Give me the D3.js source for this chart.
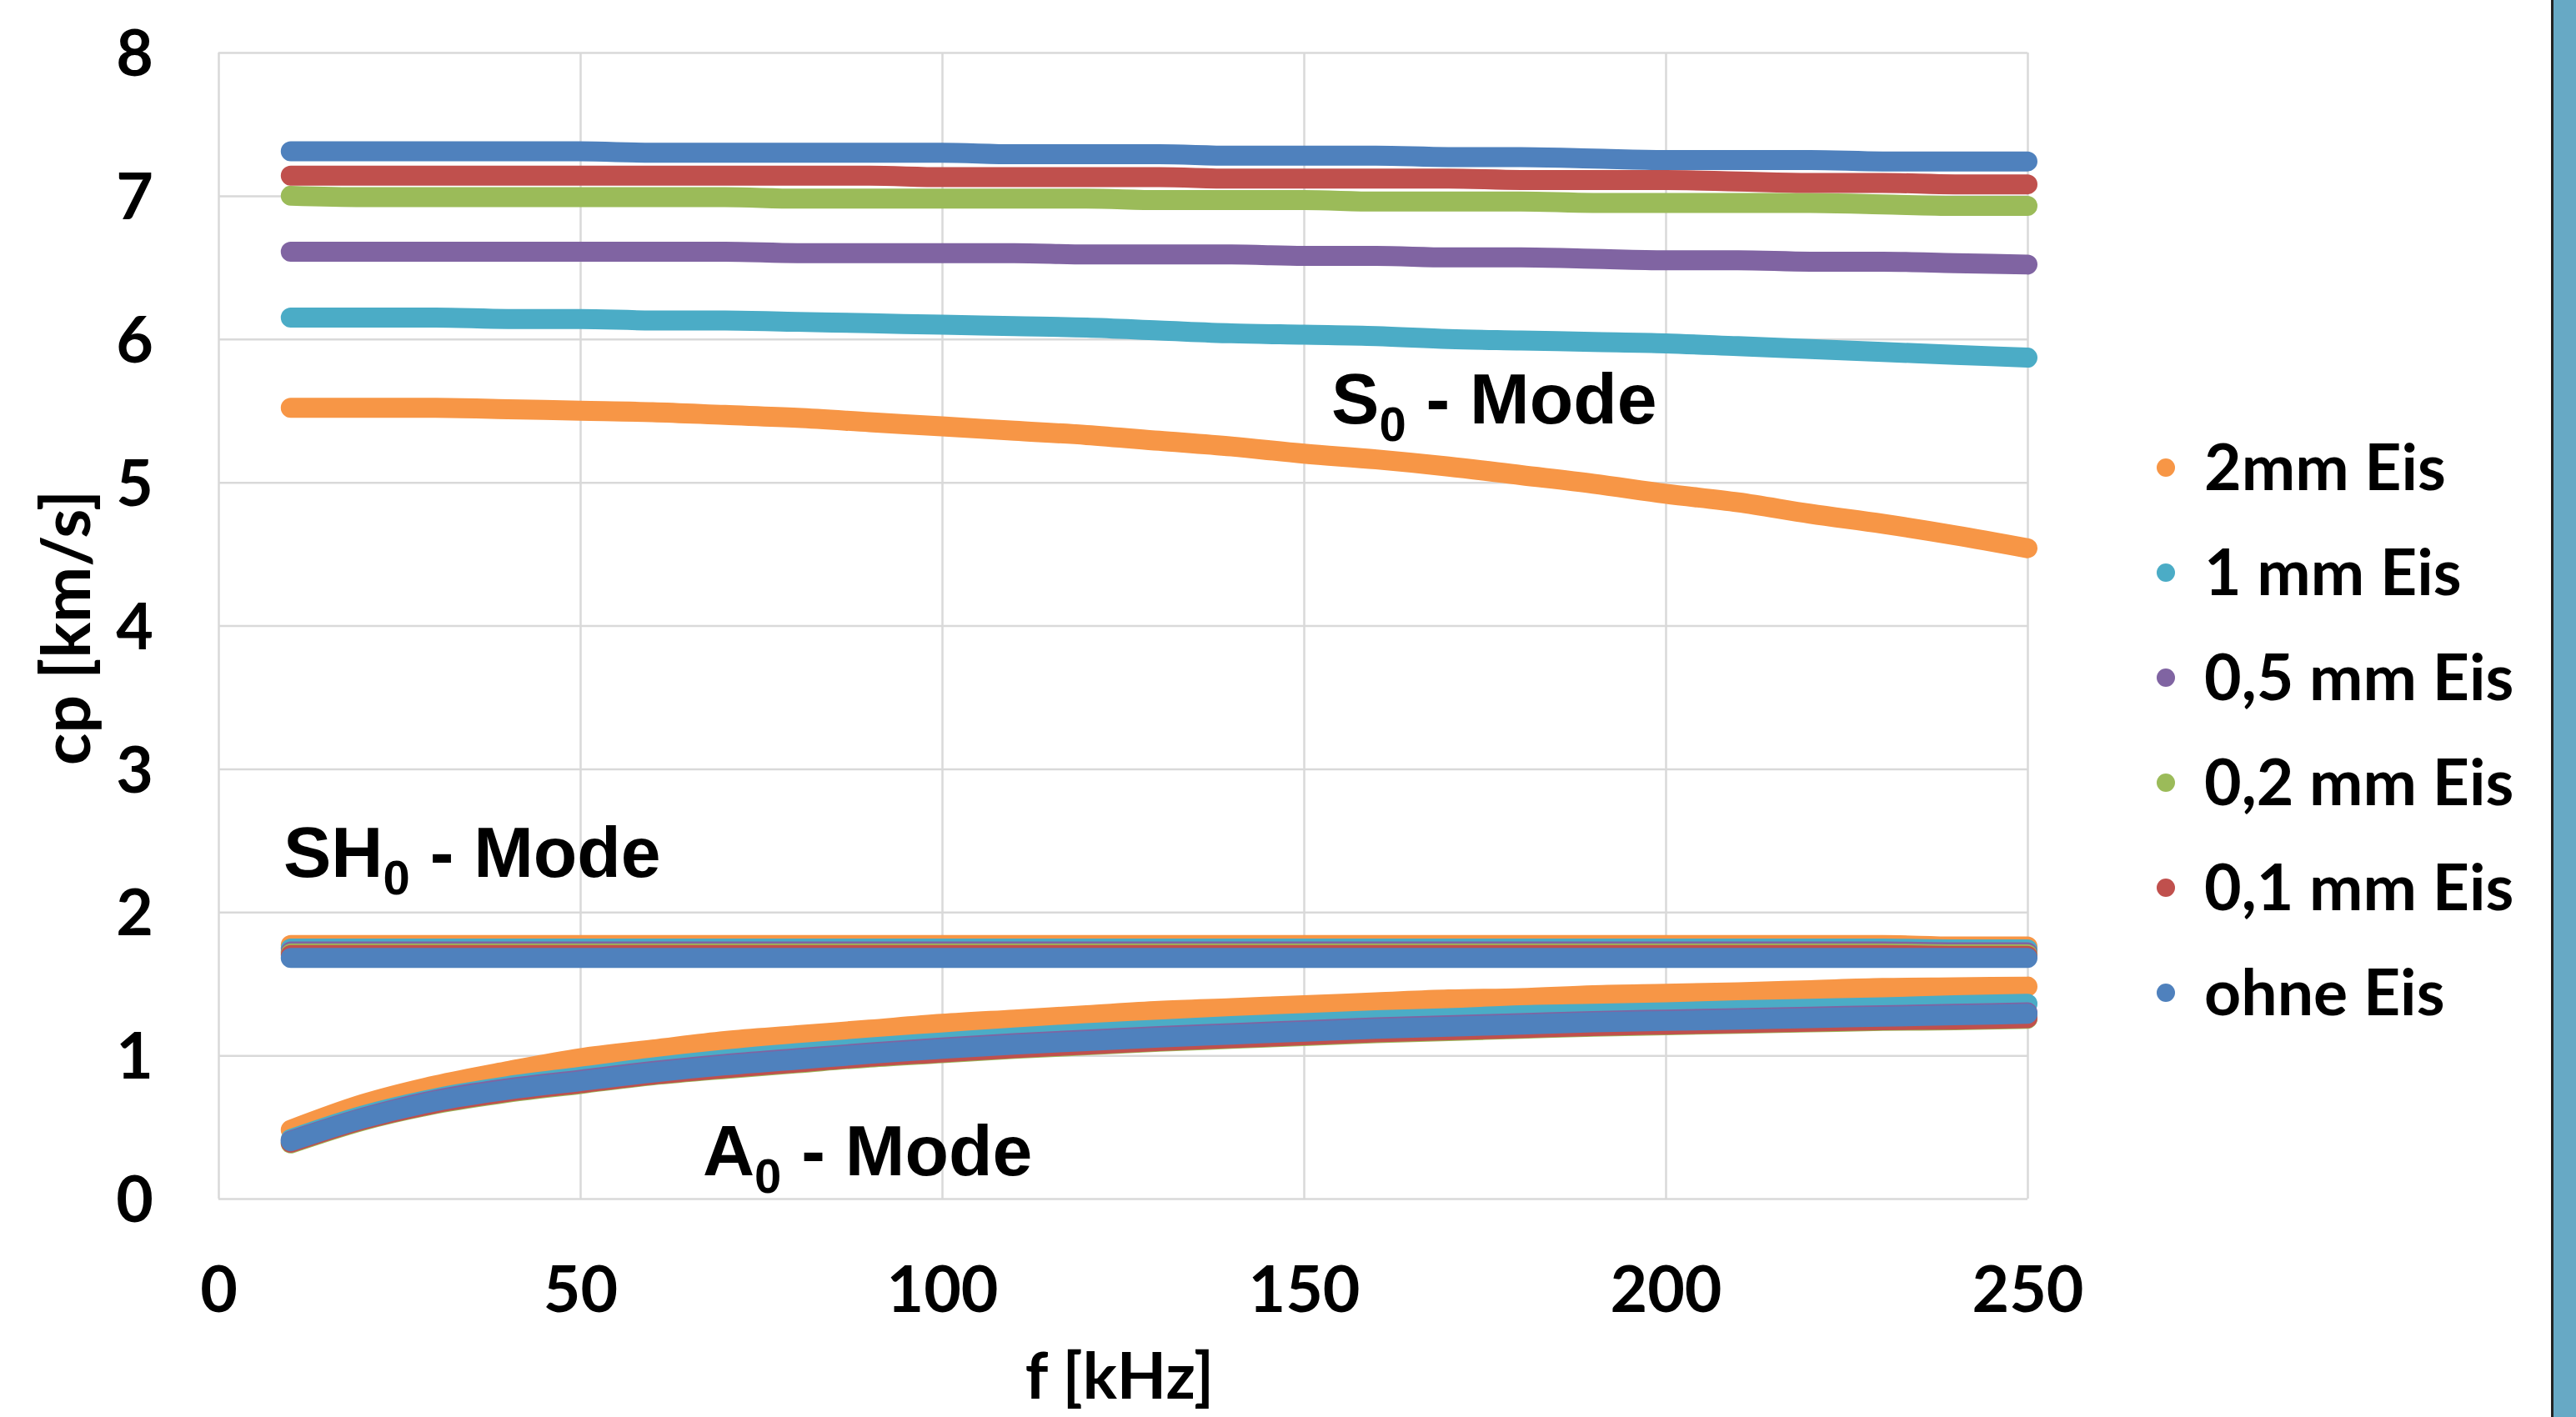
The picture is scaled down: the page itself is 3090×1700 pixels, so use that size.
<!DOCTYPE html>
<html>
<head>
<meta charset="utf-8">
<script src="https://cdn.jsdelivr.net/npm/d3@7"></script>
<style>
  html, body { margin: 0; padding: 0; background: #ffffff; }
  svg { display: block; }
</style>
</head>
<body>
<svg id="chart" width="3090" height="1700"></svg>
<script>
// ---------------- DATA ----------------
const freq = [10,20,30,40,50,60,70,80,90,100,110,120,130,140,150,160,170,180,190,200,210,220,230,240,250];

const seriesNames = ["2mm Eis", "1 mm Eis", "0,5 mm Eis", "0,2 mm Eis", "0,1 mm Eis", "ohne Eis"];
const seriesColors = ["#F79646", "#4BACC6", "#8064A2", "#9BBB59", "#C0504D", "#4F81BD"];

const xTicks = [0, 50, 100, 150, 200, 250];
const yTicks = [0, 1, 2, 3, 4, 5, 6, 7, 8];

// S0 mode
const s0_2mm  = [5.52,5.52,5.52,5.51,5.50,5.49,5.47,5.45,5.42,5.39,5.36,5.33,5.29,5.25,5.20,5.16,5.11,5.05,4.99,4.92,4.86,4.78,4.71,4.63,4.54];
const s0_1mm  = [6.15,6.15,6.15,6.14,6.14,6.13,6.13,6.12,6.11,6.10,6.09,6.08,6.06,6.04,6.03,6.02,6.00,5.99,5.98,5.97,5.95,5.93,5.91,5.89,5.87];
const s0_05mm = [6.61,6.61,6.61,6.61,6.61,6.61,6.61,6.60,6.60,6.60,6.60,6.59,6.59,6.59,6.58,6.58,6.57,6.57,6.56,6.55,6.55,6.54,6.54,6.53,6.52];
const s0_02mm = [7.00,6.99,6.99,6.99,6.99,6.99,6.99,6.98,6.98,6.98,6.98,6.98,6.97,6.97,6.97,6.96,6.96,6.96,6.95,6.95,6.95,6.95,6.94,6.93,6.93];
const s0_01mm = [7.14,7.14,7.14,7.14,7.14,7.14,7.14,7.14,7.14,7.13,7.13,7.13,7.13,7.12,7.12,7.12,7.12,7.11,7.11,7.11,7.10,7.09,7.09,7.08,7.08];
const s0_ohne = [7.31,7.31,7.31,7.31,7.31,7.30,7.30,7.30,7.30,7.30,7.29,7.29,7.29,7.28,7.28,7.28,7.27,7.27,7.26,7.25,7.25,7.25,7.24,7.24,7.24];

// SH0 mode
const sh0_2mm  = [1.77,1.77,1.77,1.77,1.77,1.77,1.77,1.77,1.77,1.77,1.77,1.77,1.77,1.77,1.77,1.77,1.77,1.77,1.77,1.77,1.77,1.77,1.77,1.76,1.76];
const sh0_1mm  = [1.745,1.745,1.745,1.745,1.745,1.745,1.745,1.745,1.745,1.745,1.745,1.745,1.745,1.745,1.745,1.745,1.745,1.745,1.745,1.745,1.745,1.745,1.745,1.74,1.74];
const sh0_05mm = [1.725,1.725,1.725,1.725,1.725,1.725,1.725,1.725,1.725,1.725,1.725,1.725,1.725,1.725,1.725,1.725,1.725,1.725,1.725,1.725,1.725,1.725,1.725,1.72,1.72];
const sh0_02mm = [1.71,1.71,1.71,1.71,1.71,1.71,1.71,1.71,1.71,1.71,1.71,1.71,1.71,1.71,1.71,1.71,1.71,1.71,1.71,1.71,1.71,1.71,1.71,1.705,1.705];
const sh0_01mm = [1.70,1.70,1.70,1.70,1.70,1.70,1.70,1.70,1.70,1.70,1.70,1.70,1.70,1.70,1.70,1.70,1.70,1.70,1.70,1.70,1.70,1.70,1.70,1.695,1.695];
const sh0_ohne = [1.68,1.68,1.68,1.68,1.68,1.68,1.68,1.68,1.68,1.68,1.68,1.68,1.68,1.68,1.68,1.68,1.68,1.68,1.68,1.68,1.68,1.68,1.68,1.68,1.68];

// A0 mode
const a0_2mm  = [0.48,0.66,0.79,0.89,0.98,1.04,1.10,1.14,1.18,1.22,1.25,1.28,1.31,1.33,1.35,1.37,1.39,1.40,1.42,1.43,1.44,1.455,1.47,1.475,1.48];
const a0_1mm  = [0.415,0.58,0.70,0.785,0.85,0.915,0.97,1.015,1.055,1.09,1.125,1.155,1.18,1.205,1.225,1.245,1.26,1.28,1.29,1.30,1.315,1.325,1.335,1.35,1.36];
const a0_05mm = [0.405,0.565,0.69,0.77,0.83,0.89,0.94,0.98,1.02,1.055,1.085,1.11,1.135,1.155,1.175,1.195,1.21,1.225,1.24,1.25,1.26,1.27,1.28,1.29,1.30];
const a0_02mm = [0.385,0.545,0.66,0.74,0.80,0.86,0.905,0.945,0.985,1.015,1.045,1.07,1.095,1.115,1.135,1.155,1.17,1.185,1.20,1.21,1.22,1.23,1.24,1.245,1.255];
const a0_01mm = [0.39,0.55,0.665,0.745,0.805,0.865,0.91,0.95,0.99,1.02,1.05,1.075,1.10,1.12,1.14,1.16,1.175,1.19,1.205,1.215,1.225,1.235,1.245,1.25,1.26];
const a0_ohne = [0.40,0.56,0.68,0.76,0.82,0.88,0.93,0.97,1.01,1.045,1.075,1.10,1.125,1.145,1.165,1.185,1.20,1.215,1.23,1.24,1.25,1.26,1.27,1.28,1.29];

const s0Values  = [s0_2mm, s0_1mm, s0_05mm, s0_02mm, s0_01mm, s0_ohne];
const sh0Values = [sh0_2mm, sh0_1mm, sh0_05mm, sh0_02mm, sh0_01mm, sh0_ohne];
const a0Values  = [a0_2mm, a0_1mm, a0_05mm, a0_02mm, a0_01mm, a0_ohne];

// ---------------- LAYOUT ----------------
(function draw() {
const svg = d3.select("#chart");
const pLeft = 262, pRight = 2432, pTop = 63, pBottom = 1438;
const tickFont = "Lato, 'Open Sans', sans-serif";
const annFont = "'Liberation Sans', Arial, sans-serif";

const x = d3.scaleLinear().domain([0, 250]).range([pLeft, pRight]);
const y = d3.scaleLinear().domain([0, 8]).range([pBottom, pTop]);

svg.append("rect").attr("x", 0).attr("y", 0).attr("width", 3090).attr("height", 1700).attr("fill", "#ffffff");

// Gridlines + y axis labels
const yAxis = d3.axisLeft(y).tickValues(yTicks).tickFormat(d3.format("d"))
  .tickSizeInner(-(pRight - pLeft)).tickSizeOuter(0).tickPadding(78);
const gy = svg.append("g").attr("transform", `translate(${pLeft},0)`).call(yAxis);
gy.select(".domain").remove();
gy.selectAll(".tick line").attr("stroke", "#d9d9d9").attr("stroke-width", 2.5);
gy.selectAll(".tick text")
  .attr("font-family", tickFont).attr("font-weight", 700).attr("font-size", 77)
  .attr("fill", "#000").attr("dy", "0.36em");

const xAxis = d3.axisBottom(x).tickValues(xTicks).tickFormat(d3.format("d"))
  .tickSizeInner(-(pBottom - pTop)).tickSizeOuter(0).tickPadding(81);
const gx = svg.append("g").attr("transform", `translate(0,${pBottom})`).call(xAxis);
gx.select(".domain").remove();
gx.selectAll(".tick line").attr("stroke", "#d9d9d9").attr("stroke-width", 2.5);
gx.selectAll(".tick text")
  .attr("font-family", tickFont).attr("font-weight", 700).attr("font-size", 77)
  .attr("fill", "#000").attr("dy", "0.71em");

// Series (drawn in legend order; last on top)
const line = d3.line()
  .x((d) => x(d[0]))
  .y((d) => y(d[1]))
  .curve(d3.curveMonotoneX);

const gSeries = svg.append("g");
seriesNames.forEach((name, i) => {
  [s0Values[i], sh0Values[i], a0Values[i]].forEach((vals) => {
    const pts = freq.map((f, j) => [f, vals[j]]);
    gSeries.append("path")
      .attr("d", line(pts))
      .attr("fill", "none")
      .attr("stroke", seriesColors[i])
      .attr("stroke-width", 24)
      .attr("stroke-linecap", "round")
      .attr("stroke-linejoin", "round");
  });
});

// Axis titles
svg.append("text")
  .attr("transform", `translate(108,753) rotate(-90)`)
  .attr("text-anchor", "middle")
  .attr("font-family", tickFont).attr("font-weight", 700).attr("font-size", 80)
  .attr("fill", "#000")
  .text("cp [km/s]");

svg.append("text")
  .attr("x", 1343).attr("y", 1678)
  .attr("text-anchor", "middle")
  .attr("font-family", tickFont).attr("font-weight", 700).attr("font-size", 77)
  .attr("fill", "#000")
  .text("f [kHz]");

// Mode annotations
function modeLabel(xPos, yPos, main) {
  const t = svg.append("text")
    .attr("x", xPos).attr("y", yPos)
    .attr("font-family", annFont).attr("font-weight", 700).attr("font-size", 86)
    .attr("fill", "#000");
  t.append("tspan").text(main);
  t.append("tspan").attr("font-size", 58).attr("dy", 21).text("0");
  t.append("tspan").attr("dy", -21).text(" - Mode");
}
modeLabel(1597, 508, "S");
modeLabel(340, 1052, "SH");
modeLabel(843, 1410, "A");

// Legend
const legendRows = [561, 687, 813, 939, 1065, 1191];
const gLeg = svg.append("g");
seriesNames.forEach((name, i) => {
  gLeg.append("circle")
    .attr("cx", 2598).attr("cy", legendRows[i]).attr("r", 11)
    .attr("fill", seriesColors[i]);
  gLeg.append("text")
    .attr("x", 2644).attr("y", legendRows[i] + 27)
    .attr("font-family", tickFont).attr("font-weight", 700).attr("font-size", 77)
    .attr("fill", "#000")
    .text(name);
});

// Right edge decoration
svg.append("rect").attr("x", 3060).attr("y", 0).attr("width", 3).attr("height", 1700).attr("fill", "#222");
svg.append("rect").attr("x", 3063).attr("y", 0).attr("width", 27).attr("height", 1700).attr("fill", "#67A9C5");
})();
</script>
</body>
</html>
